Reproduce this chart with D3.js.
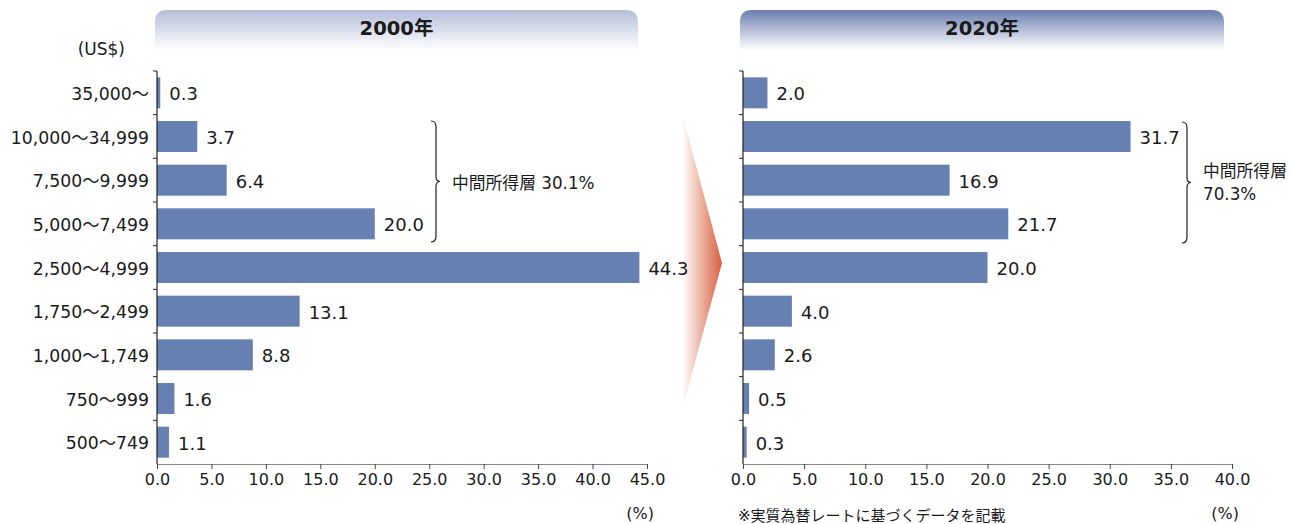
<!DOCTYPE html>
<html>
<head>
<meta charset="utf-8">
<script src="https://cdn.jsdelivr.net/npm/d3@7"></script>
<style>
body { margin: 0; background: #fff; }
svg text { font-family: "DejaVu Sans", "Noto Sans CJK JP", sans-serif; fill: #1a1a1a; }
</style>
</head>
<body>
<svg width="1290" height="524"></svg>
<script>
// income brackets, top to bottom
var categories = ["35,000～", "10,000～34,999", "7,500～9,999", "5,000～7,499", "2,500～4,999",
  "1,750～2,499", "1,000～1,749", "750～999", "500～749"];
var values2000 = [0.3, 3.7, 6.4, 20.0, 44.3, 13.1, 8.8, 1.6, 1.1];
var values2020 = [2.0, 31.7, 16.9, 21.7, 20.0, 4.0, 2.6, 0.5, 0.3];
var ticks2000 = [0, 5, 10, 15, 20, 25, 30, 35, 40, 45];
var ticks2020 = [0, 5, 10, 15, 20, 25, 30, 35, 40];

var svg = d3.select("svg");
var defs = svg.append("defs");

var g1 = defs.append("linearGradient").attr("id", "hd1").attr("x1", 0).attr("y1", 0).attr("x2", 0).attr("y2", 1);
g1.append("stop").attr("offset", "0%").attr("stop-color", "#b5bdd8");
g1.append("stop").attr("offset", "100%").attr("stop-color", "#ffffff");
var g2 = defs.append("linearGradient").attr("id", "hd2").attr("x1", 0).attr("y1", 0).attr("x2", 0).attr("y2", 1);
g2.append("stop").attr("offset", "0%").attr("stop-color", "#6a7dae");
g2.append("stop").attr("offset", "100%").attr("stop-color", "#ffffff");
var ga = defs.append("linearGradient").attr("id", "arr").attr("x1", 0).attr("y1", 0).attr("x2", 1).attr("y2", 0);
ga.append("stop").attr("offset", "0%").attr("stop-color", "#ffffff");
ga.append("stop").attr("offset", "100%").attr("stop-color", "#d8603f");

// arrow sits behind everything
svg.append("path").attr("d", "M682,113 L722,263 L682,410 Z").attr("fill", "url(#arr)");

var y = d3.scaleBand().domain(categories).range([71, 464]).paddingInner(0.29).paddingOuter(0.145);

function panel(opts) {
  var x = d3.scaleLinear().domain([0, opts.max]).range([opts.x0, opts.x1]);
  var g = svg.append("g");

  // header
  g.append("path")
    .attr("d", "M" + opts.hx0 + ",50 V22 Q" + opts.hx0 + ",10 " + (opts.hx0 + 12) + ",10 H" + (opts.hx1 - 12) +
      " Q" + opts.hx1 + ",10 " + opts.hx1 + ",22 V50 Z")
    .attr("fill", "url(#" + opts.grad + ")");
  g.append("text").attr("x", (opts.hx0 + opts.hx1) / 2).attr("y", 35)
    .attr("text-anchor", "middle").style("font-size", "19.5px").style("font-weight", "bold")
    .text(opts.title);

  g.selectAll(".bar").data(opts.values).enter().append("rect")
    .attr("x", x(0))
    .attr("y", function (d, i) { return y(categories[i]); })
    .attr("width", function (d) { return x(d) - x(0); })
    .attr("height", y.bandwidth())
    .attr("fill", "#6680b2");

  g.selectAll(".lbl").data(opts.values).enter().append("text")
    .attr("x", function (d) { return x(d) + 9; })
    .attr("y", function (d, i) { return y(categories[i]) + y.bandwidth() / 2 + 7.5; })
    .style("font-size", "18px")
    .text(function (d) { return d.toFixed(1); });

  // x axis
  var xa = g.append("g").attr("transform", "translate(0,464)")
    .call(d3.axisBottom(x).tickValues(opts.ticks).tickSize(5).tickPadding(5).tickFormat(d3.format(".1f")));
  xa.select(".domain").attr("stroke", "#888");
  xa.selectAll(".tick line").attr("stroke", "#444");
  xa.selectAll("text").style("font-size", "16px").attr("fill", "#1a1a1a");
  g.append("text").attr("x", opts.x1 + 7).attr("y", 519).attr("text-anchor", "end")
    .style("font-size", "16px").text("(%)");

  // y axis with boundary ticks
  g.append("line").attr("x1", x(0)).attr("x2", x(0)).attr("y1", 71).attr("y2", 464)
    .attr("stroke", "#222").attr("stroke-width", 1.2);
  var step = y.step();
  g.selectAll(".yt").data(d3.range(categories.length)).enter().append("line")
    .attr("x1", x(0) - 4).attr("x2", x(0))
    .attr("y1", function (i) { return 71 + i * step; })
    .attr("y2", function (i) { return 71 + i * step; })
    .attr("stroke", "#222");

  if (opts.labels) {
    g.selectAll(".cat").data(categories).enter().append("text")
      .attr("x", x(0) - 8)
      .attr("y", function (d) { return y(d) + y.bandwidth() / 2 + 7; })
      .attr("text-anchor", "end").style("font-size", "17.3px")
      .text(function (d) { return d; });
  }
  return x;
}

panel({ values: values2000, max: 45, x0: 157, x1: 647, hx0: 155, hx1: 638, grad: "hd1",
  title: "2000年", ticks: ticks2000, labels: true });
panel({ values: values2020, max: 40, x0: 743, x1: 1232, hx0: 740, hx1: 1224, grad: "hd2",
  title: "2020年", ticks: ticks2020, labels: false });

svg.append("text").attr("x", 125).attr("y", 55).attr("text-anchor", "end")
  .style("font-size", "17px").text("(US$)");

// braces
function brace(bx, y0, y1) {
  var m = (y0 + y1) / 2;
  svg.append("path")
    .attr("d", "M" + bx + "," + y0 + " Q" + (bx + 5) + "," + y0 + " " + (bx + 5) + "," + (y0 + 6) +
      " V" + (m - 5) + " Q" + (bx + 5) + "," + m + " " + (bx + 9) + "," + m +
      " Q" + (bx + 5) + "," + m + " " + (bx + 5) + "," + (m + 5) +
      " V" + (y1 - 6) + " Q" + (bx + 5) + "," + y1 + " " + bx + "," + y1)
    .attr("fill", "none").attr("stroke", "#222").attr("stroke-width", 1.2);
}
brace(431, 121, 242);
svg.append("text").attr("x", 452).attr("y", 189).style("font-size", "16.8px").text("中間所得層 30.1%");
brace(1182, 122, 243);
svg.append("text").attr("x", 1203).attr("y", 177).style("font-size", "16.8px").text("中間所得層");
svg.append("text").attr("x", 1203).attr("y", 200).style("font-size", "16.8px").text("70.3%");

svg.append("text").attr("x", 738).attr("y", 521).style("font-size", "15px")
  .text("※実質為替レートに基づくデータを記載");
</script>
</body>
</html>
